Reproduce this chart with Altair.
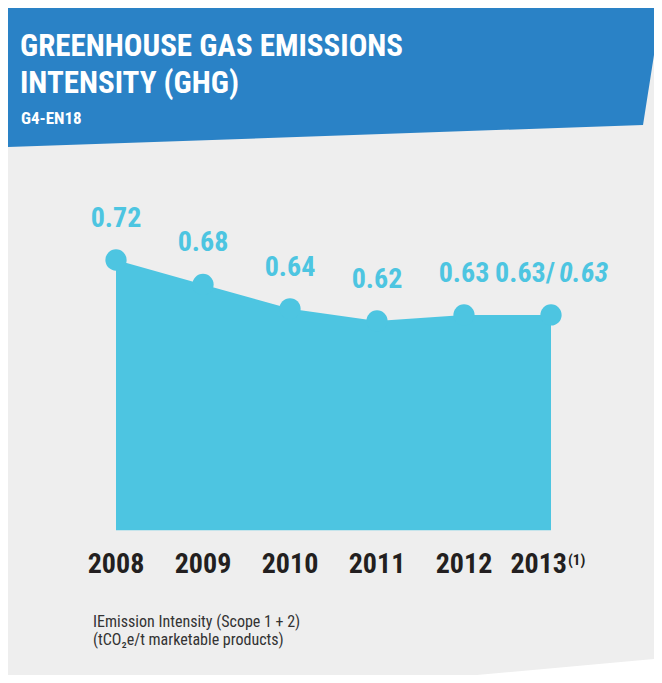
import altair as alt
import pandas as pd

# ---------------- data ----------------
YEARS = [2008, 2009, 2010, 2011, 2012, 2013]
VALUES = [0.72, 0.68, 0.64, 0.62, 0.63, 0.63]
VALUE_LABELS = ["0.72", "0.68", "0.64", "0.62", "0.63", "0.63/"]
RESTATED_LABEL = ["0.63"]          # italic value shown after the slash for 2013
YEAR_LABELS = ["2008", "2009", "2010", "2011", "2012", "2013"]
FOOTNOTE_MARK = ["(1)"]
TITLE_LINES = ["GREENHOUSE GAS EMISSIONS", "INTENSITY (GHG)"]
SUBTITLE = ["G4-EN18"]
FOOTER_LINES = ["IEmission Intensity (Scope 1 + 2)", "(tCO\u2082e/t marketable products)"]
BASELINE_VALUE = 0.277             # value at which the filled area ends

# ---------------- layout / style ----------------
W, H = 646, 667
CYAN = "#4DC5E1"
BLUE = "#2A82C6"
GRAY = "#EEEEEE"
DARK = "#231F20"
FONT = "Roboto Condensed, Roboto, sans-serif"

df = pd.DataFrame({"year": YEARS, "value": VALUES, "label": VALUE_LABELS,
                   "year_label": YEAR_LABELS})
last = df[df["year"] == YEARS[-1]].copy()
last["restated"] = RESTATED_LABEL
last["note"] = FOOTNOTE_MARK
first = df[df["year"] != YEARS[-1]]

xs = alt.Scale(domain=[YEARS[0], YEARS[-1]], range=[108, 543], nice=False)
ys = alt.Scale(domain=[0.62, 0.72], range=[313, 252], zero=False, nice=False)
X = alt.X("year:Q", scale=xs, axis=None)
Y = alt.Y("value:Q", scale=ys, axis=None)

# decorative header band and bottom cut (pixel space)
header = pd.DataFrame({"px": [0, 635, W], "top": [0, 0, 0], "bottom": [139, 117, 47]})
wedge = pd.DataFrame({"px": [469, W], "top": [H, 651], "bottom": [H, H]})

header_layer = alt.Chart(header).mark_area(color=BLUE, opacity=1).encode(
    x=alt.X("px:Q", scale=None), y=alt.Y("top:Q", scale=None), y2="bottom:Q")
wedge_layer = alt.Chart(wedge).mark_area(color="white", opacity=1).encode(
    x=alt.X("px:Q", scale=None), y=alt.Y("top:Q", scale=None), y2="bottom:Q")

area = alt.Chart(df).mark_area(color=CYAN, opacity=1).encode(
    x=X, y=Y, y2=alt.datum(BASELINE_VALUE))
points = alt.Chart(df).mark_circle(color=CYAN, size=452, opacity=1).encode(x=X, y=Y)

lbl_style = dict(font=FONT, fontSize=28, fontWeight="bold", color=CYAN,
                 baseline="alphabetic", dy=-33)
labels = alt.Chart(first).mark_text(align="center", **lbl_style).encode(
    x=X, y=Y, text="label:N")
label_last = alt.Chart(last).mark_text(align="right", dx=4, **lbl_style).encode(
    x=X, y=Y, text="label:N")
label_restated = alt.Chart(last).mark_text(align="left", dx=8, fontStyle="italic",
                                           **lbl_style).encode(x=X, y=Y, text="restated:N")

yr_style = dict(font=FONT, fontSize=28, fontWeight="bold", color=DARK, baseline="alphabetic")
years = alt.Chart(first).mark_text(align="center", **yr_style).encode(
    x=X, y=alt.value(565), text="year_label:N")
year_last = alt.Chart(last).mark_text(align="right", dx=16, **yr_style).encode(
    x=X, y=alt.value(565), text="year_label:N")
note = alt.Chart(last).mark_text(align="left", dx=17, font=FONT, fontSize=15,
                                 fontWeight="bold", color=DARK, baseline="alphabetic").encode(
    x=X, y=alt.value(557), text="note:N")


def text_line(s, x, y, size, weight="normal", color="white", font=FONT):
    return alt.Chart(pd.DataFrame({"t": [s]})).mark_text(
        align="left", baseline="alphabetic", font=font, fontSize=size,
        fontWeight=weight, color=color).encode(
        x=alt.value(x), y=alt.value(y), text="t:N")


title1 = text_line(TITLE_LINES[0], 12, 48, 31, "bold")
title2 = text_line(TITLE_LINES[1], 12, 85, 31, "bold")
sub = text_line(SUBTITLE[0], 13, 116, 17, "bold")
foot1 = text_line(FOOTER_LINES[0], 85, 619, 16, color="#333333")
foot2 = text_line(FOOTER_LINES[1], 85, 637, 16, color="#333333")

chart = alt.layer(
    header_layer, wedge_layer, area, points, labels, label_last, label_restated,
    years, year_last, note, title1, title2, sub, foot1, foot2
).resolve_scale(x="independent", y="independent").properties(
    width=W, height=H,
    autosize=alt.AutoSizeParams(type="none"),
    padding=0,
    background=GRAY,
).configure_view(stroke=None)

chart.save("out.html", embed_options={"renderer": "svg", "actions": False})
